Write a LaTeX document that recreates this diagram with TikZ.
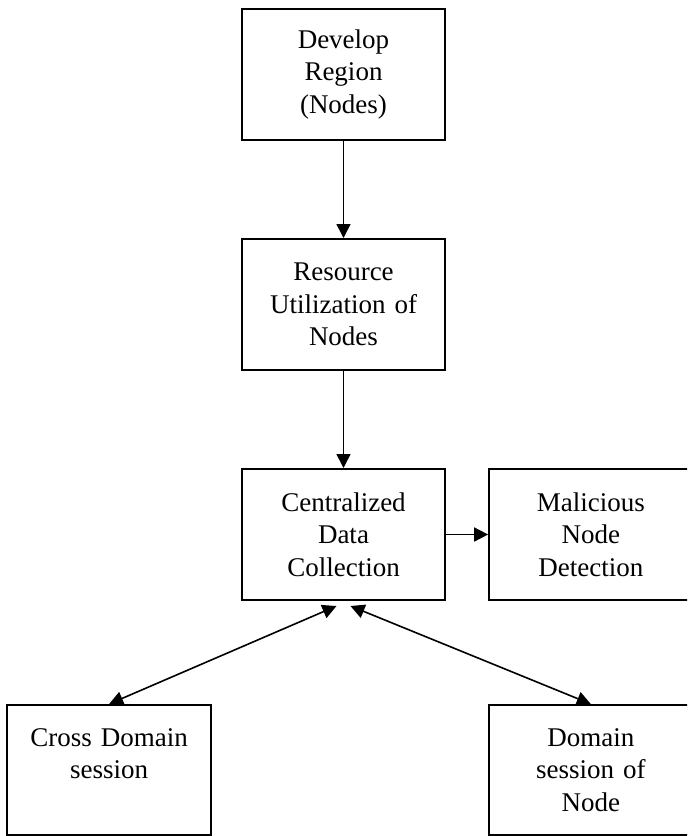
\documentclass[tikz,border=0pt]{standalone}
\usepackage{fontspec}
\setmainfont{Liberation Serif}
\usetikzlibrary{positioning, arrows.meta}
\tikzstyle{block} = [rectangle, draw, line width=1pt, minimum width=101.5pt, minimum height=65.5pt, text width=95pt, align=center, font=\fontsize{13.5}{16.25}\selectfont]
\tikzstyle{link} = [line width=0.8pt, -{Triangle[length=7pt, width=7pt]}]
\tikzstyle{duplex} = [line width=0.8pt, {Triangle[length=7pt, width=7pt]}-{Triangle[length=7pt, width=7pt]}]

\begin{document}
\begin{tikzpicture}[node distance=48.5pt]
\useasboundingbox (-171.75pt,4pt) rectangle (171.75pt,-414pt);
\clip (-171.75pt,4pt) rectangle (171.75pt,-414pt);
\node (region) [block, anchor=north] at (0,0) {Develop\\Region\\(Nodes)};
\node (usage) [block, below = of region] {Resource\\Utilization of\\Nodes};
\node (collect) [block, below = of usage] {Centralized\\Data\\Collection};
\node (detect) [block, right = 21pt of collect] {Malicious\\Node\\Detection};
\node (cross) [block, minimum height=65pt, below left = 51.5pt and 14.5pt of collect] {Cross Domain\\session\\~};
\node (session) [block, minimum height=65pt, below = 51.5pt of detect] {Domain\\session of\\Node};
\draw [link] (region) -- (usage);
\draw [link] (usage) -- (collect);
\draw [link] (collect) -- (detect);
\draw [duplex] (cross.north) -- ([xshift=-3.5pt, yshift=-2.5pt]collect.south);
\draw [duplex] ([xshift=3.5pt, yshift=-2.5pt]collect.south) -- (session.north);
\end{tikzpicture}
\end{document}
